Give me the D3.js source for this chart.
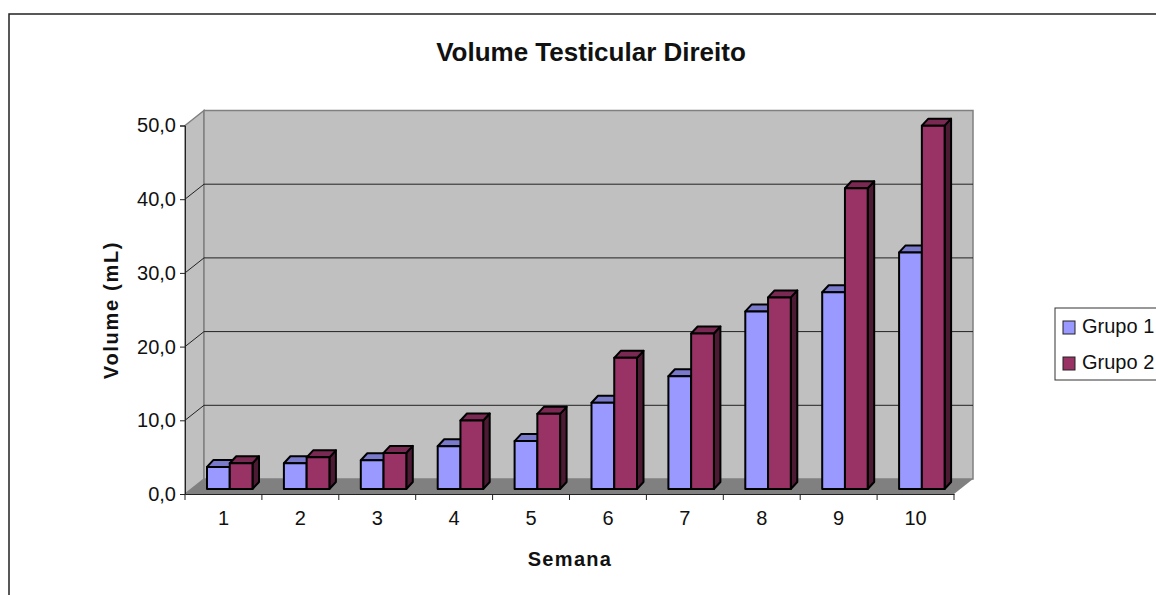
<!DOCTYPE html>
<html>
<head>
<meta charset="utf-8">
<script src="https://cdn.jsdelivr.net/npm/d3@7"></script>
<style>
    html, body { margin: 0; padding: 0; background: #fff; overflow: hidden; }
    text { font-family: "Liberation Sans", Arial, sans-serif; fill: #111; }
</style>
</head>
<body>
<svg id="chart" width="1156" height="595"></svg>
<script>
var semanas = ["1", "2", "3", "4", "5", "6", "7", "8", "9", "10"];
var grupo1 = [3.0, 3.5, 3.9, 5.8, 6.5, 11.7, 15.3, 24.1, 26.7, 32.1];
var grupo2 = [3.5, 4.3, 4.9, 9.3, 10.2, 17.8, 21.1, 26.0, 40.8, 49.3];
var seriesNames = ["Grupo 1", "Grupo 2"];
var yTicks = [0, 10, 20, 30, 40, 50];

var colors = [
    { front: "#9999ff", top: "#7a7acc", side: "#4d4d80" },
    { front: "#993366", top: "#7a2952", side: "#4d1a33" }
];

var svg = d3.select("#chart");

// outer frame, cut by the right and bottom edge of the picture
svg.append("rect")
    .attr("x", 9).attr("y", 14)
    .attr("width", 1160).attr("height", 600)
    .attr("fill", "#fff")
    .attr("stroke", "#222")
    .attr("stroke-width", 1.5);

var x = d3.scaleBand().domain(semanas).range([185, 954]);
var bar = d3.scaleBand().domain([0, 1]).range([22, 67.5]);
var y = d3.scaleLinear().domain([0, 50]).range([494, 125.5]);

// depth of the 3d box and of the bars
var wallDx = 19, wallDy = -15;
var barDx = 6.5, barDy = -7;
var barFloor = -5;

function pts(list) {
    return list.map(function(p) { return p.join(","); }).join(" ");
}

var x0 = x.range()[0], x1 = x.range()[1];

// walls
svg.append("polygon")
    .attr("points", pts([[x0, y(0)], [x0 + wallDx, y(0) + wallDy], [x0 + wallDx, y(50) + wallDy], [x0, y(50)]]))
    .attr("fill", "#c0c0c0").attr("stroke", "#808080").attr("stroke-width", 1.5);
svg.append("polygon")
    .attr("points", pts([[x0 + wallDx, y(0) + wallDy], [x1 + wallDx, y(0) + wallDy], [x1 + wallDx, y(50) + wallDy], [x0 + wallDx, y(50) + wallDy]]))
    .attr("fill", "#c0c0c0").attr("stroke", "#808080").attr("stroke-width", 1.5);

// gridlines on both walls
yTicks.slice(1, 5).forEach(function(t) {
    svg.append("polyline")
        .attr("points", pts([[x0, y(t)], [x0 + wallDx, y(t) + wallDy], [x1 + wallDx, y(t) + wallDy]]))
        .attr("fill", "none").attr("stroke", "#222").attr("stroke-width", 1);
});

// floor
svg.append("polygon")
    .attr("points", pts([[x0, y(0)], [x0 + wallDx, y(0) + wallDy], [x1 + wallDx, y(0) + wallDy], [x1, y(0)]]))
    .attr("fill", "#808080");

// axes
var yAxis = d3.axisLeft(y)
    .tickValues(yTicks)
    .tickSize(5)
    .tickPadding(4)
    .tickFormat(function(d) { return d3.format(".1f")(d).replace(".", ","); });
var gy = svg.append("g").attr("transform", "translate(" + x0 + ",0)").call(yAxis);
gy.selectAll("text").style("font-size", "20px");
gy.selectAll("line,path").attr("stroke", "#222");

var xAxis = d3.axisBottom(x).tickSize(0).tickPadding(17);
var gx = svg.append("g").attr("transform", "translate(0," + y(0) + ")").call(xAxis);
gx.selectAll("text").style("font-size", "20px");
gx.select("path").attr("stroke", "#222");

var edges = semanas.map(function(s) { return x(s); }).concat([x1]);
svg.append("g").selectAll("line").data(edges).join("line")
    .attr("x1", function(d) { return d; })
    .attr("x2", function(d) { return d; })
    .attr("y1", y(0))
    .attr("y2", y(0) + 6)
    .attr("stroke", "#222");

// bars, grupo 2 goes over the side of grupo 1
[grupo1, grupo2].forEach(function(values, s) {
    var g = svg.append("g").attr("stroke", "#000").attr("stroke-width", 2).attr("stroke-linejoin", "round");
    var w = bar.bandwidth();
    values.forEach(function(v, i) {
        var bx = x(semanas[i]) + bar(s);
        var top = y(v) + barFloor;
        var bottom = y(0) + barFloor;
        g.append("polygon")
            .attr("points", pts([[bx + w, top], [bx + w + barDx, top + barDy], [bx + w + barDx, bottom + barDy], [bx + w, bottom]]))
            .attr("fill", colors[s].side);
        g.append("polygon")
            .attr("points", pts([[bx, top], [bx + barDx, top + barDy], [bx + w + barDx, top + barDy], [bx + w, top]]))
            .attr("fill", colors[s].top);
        g.append("rect")
            .attr("x", bx).attr("y", top)
            .attr("width", w).attr("height", bottom - top)
            .attr("fill", colors[s].front);
    });
});

// titles
svg.append("text")
    .attr("x", 591).attr("y", 61)
    .attr("text-anchor", "middle")
    .style("font-size", "26px").style("font-weight", "bold")
    .text("Volume Testicular Direito");
svg.append("text")
    .attr("x", 570).attr("y", 566)
    .attr("text-anchor", "middle")
    .style("font-size", "20px").style("font-weight", "bold").style("letter-spacing", "1.3px")
    .text("Semana");
svg.append("text")
    .attr("transform", "translate(118,310) rotate(-90)")
    .attr("text-anchor", "middle")
    .style("font-size", "20px").style("font-weight", "bold").style("letter-spacing", "1.7px")
    .text("Volume (mL)");

// legend
svg.append("rect")
    .attr("x", 1055).attr("y", 308)
    .attr("width", 120).attr("height", 72)
    .attr("fill", "#fff").attr("stroke", "#333").attr("stroke-width", 1);
var legend = svg.append("g").selectAll("g").data(seriesNames).join("g")
    .attr("transform", function(d, i) { return "translate(0," + (i * 36) + ")"; });
legend.append("rect")
    .attr("x", 1063).attr("y", 321)
    .attr("width", 12).attr("height", 13)
    .attr("fill", function(d, i) { return colors[i].front; })
    .attr("stroke", "#222").attr("stroke-width", 1);
legend.append("text")
    .attr("x", 1082).attr("y", 333)
    .style("font-size", "20px")
    .text(function(d) { return d; });
</script>
</body>
</html>
